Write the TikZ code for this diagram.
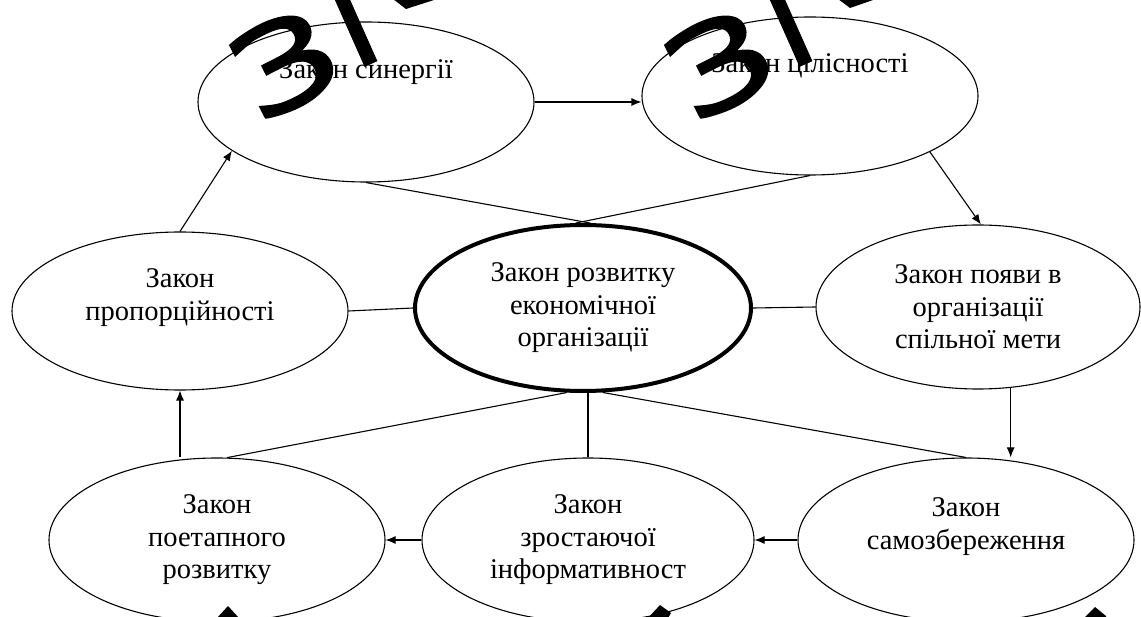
\documentclass[tikz,border=0pt]{standalone}
\usepackage{graphicx}
\usepackage{fontspec}
\setmainfont{Liberation Serif}
\newfontfamily\wmfont[FakeBold=1.5]{DejaVu Sans}
\usetikzlibrary{shapes.geometric,arrows.meta}
\begin{document}
\begin{tikzpicture}[x=1pt,y=-1pt,
  law/.style={ellipse,draw,line width=1.1pt,inner sep=0pt,align=center,
    font=\fontsize{28.5}{32.5}\selectfont},
  conn/.style={line width=1.1pt},
  arr/.style={conn,-{Latex[length=10pt,width=8pt]}},
  wm/.style={font=\wmfont\fontsize{120}{120}\selectfont,rotate=27,anchor=base west,inner sep=0pt,text=black},
  wmstem/.style={line width=14pt,black},
  wmtip/.style={fill=black,draw=none}]
\useasboundingbox (0,0) rectangle (1141,617);
\fill[white] (0,0) rectangle (1141,617);
\clip (0,0) rectangle (1141,617);

% laws
\node[law,minimum width=336pt,minimum height=160pt] (syn) at (366,102) {Закон синергії\\~\\~};
\node[law,minimum width=336pt,minimum height=158pt] (cil) at (810,96) {Закон цілісності\\~\\~};
\node[law,minimum width=336pt,minimum height=158pt] (prop) at (180,311) {Закон\\пропорційності\\~};
\node[law,line width=4pt,minimum width=336pt,minimum height=166pt] (cen) at (583,308) {Закон розвитку\\економічної\\організації};
\node[law,minimum width=324pt,minimum height=164pt] (pojavy) at (978,307) {Закон появи в\\організації\\спільної мети};
\node[law,minimum width=336pt,minimum height=164pt] (poet) at (217,540) {Закон\\поетапного\\розвитку};
\node[law,minimum width=332pt,minimum height=164pt] (zrost) at (588,540) {Закон\\зростаючої\\інформативност};
\node[law,minimum width=336pt,minimum height=164pt] (samo) at (966,540) {Закон\\самозбереження\\~};

% arrows
\draw[arr] (syn.east) -- (syn.east -| cil.west);
\draw[arr] (prop.north) -- (syn.200);
\draw[arr] (cil.-25) -- (pojavy.88);
\draw[arr] (pojavy.-68) -- (pojavy.-68 |- samo.north);
\draw[arr] (samo.west) -- (zrost.east);
\draw[arr] (zrost.west) -- (poet.east);
\draw[arr] (prop.south |- poet.north) -- (prop.south);

% plain lines
\draw[conn] (prop.east) -- (cen.west);
\draw[conn] (cen.east) -- (pojavy.west);
\draw[conn] (syn.south) -- (cen.85);
\draw[conn] (cil.south) -- (cen.95);
\draw[conn] (cen.259) -- (poet.83);
\draw[conn] (zrost.north |- cen.south) -- (zrost.north);
\draw[conn] (cen.-77) -- (samo.north);

% watermark
\node[wm] (w1a) at (258,126) {\scalebox{1.35}[1]{З}};
\node[wm] (w2a) at (693,126) {\scalebox{1.35}[1]{З}};
\draw[wmstem] (371,64) -- (339,-8);
\draw[wmstem] (806,64) -- (774,-8);
\fill[wmtip] (393,-1) -- (437,-1) -- (406,9) -- cycle;
\fill[wmtip] (838,-1) -- (876,-1) -- (850,8) -- cycle;
\fill[wmtip] (217,618) -- (228,606) -- (239,618) -- cycle;
\fill[wmtip] (648,618) -- (660,605) -- (671,613) -- (668,618) -- cycle;
\fill[wmtip] (1084,618) -- (1095,607) -- (1106,616) -- (1106,618) -- cycle;
\end{tikzpicture}
\end{document}
